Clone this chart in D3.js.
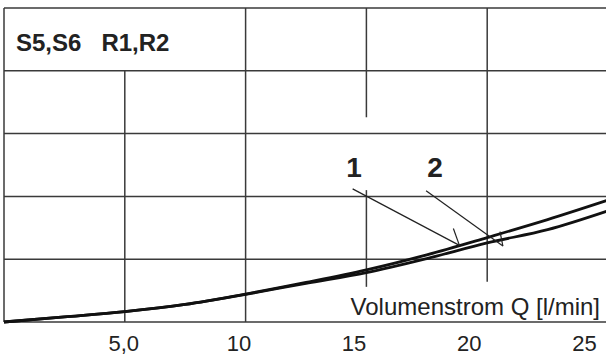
<!DOCTYPE html>
<html>
<head>
<meta charset="utf-8">
<script src="https://cdn.jsdelivr.net/npm/d3@7"></script>
<style>
  body { margin: 0; background: #fff; }
  svg { display: block; font-family: "Liberation Sans", Arial, Helvetica, sans-serif; }
</style>
</head>
<body>
<svg id="chart" width="606" height="356"></svg>
<script>
// Volumenstrom Q [l/min] and two pressure-drop curves (no y labels in the source)
const flow = [0, 2.5, 5, 7.5, 10, 12.5, 15, 17.5, 20, 22.5, 25];
const curve1 = [0, 0.08, 0.165, 0.28, 0.445, 0.63, 0.83, 1.07, 1.345, 1.63, 1.94];
const curve2 = [0, 0.08, 0.165, 0.28, 0.44, 0.615, 0.785, 1.01, 1.26, 1.47, 1.77];

const tickValues = [5, 10, 15, 20, 25];
const tickLabels = ["5,0", "10", "15", "20", "25"];
const gridRows = [0, 1, 2, 3, 4, 5];

// vertical grid segments as drawn in the original (some are broken)
const gridCols = [
    { q: 0, from: 0, to: 5 },
    { q: 5, from: 0, to: 4 },
    { q: 10, from: 0, to: 5 },
    { q: 15, from: 3.26, to: 5 },
    { q: 15, from: 0.56, to: 2.1 },
    { q: 20, from: 0.64, to: 5 }
];

const title = "S5,S6   R1,R2";
const xTitle = "Volumenstrom Q [l/min]";

// leader lines for the curve labels, in data units
const labels = [
    { text: "1", q: 14.49, p: 2.31, from: [14.43, 2.12], to: [18.85, 1.22], tick: [18.6, 1.49] },
    { text: "2", q: 17.84, p: 2.31, from: [17.47, 2.09], to: [20.65, 1.21], tick: [20.53, 1.44] }
];

const svg = d3.select("#chart");

const x = d3.scaleLinear().domain([0, 25]).range([4, 608]);
const y = d3.scaleLinear().domain([0, 5]).range([322, 8]);
// tick labels sit a little left of the grid lines in the source
const xLabel = d3.scaleLinear().domain([0, 25]).range([8, 584]);

const gridColor = "#3a3a3a";

// horizontal grid
svg.append("g").selectAll("line")
    .data(gridRows)
    .join("line")
    .attr("x1", x(0)).attr("x2", x(25))
    .attr("y1", d => y(d)).attr("y2", d => y(d))
    .attr("stroke", gridColor)
    .attr("stroke-width", 1.5);

// vertical grid
svg.append("g").selectAll("line")
    .data(gridCols)
    .join("line")
    .attr("x1", d => x(d.q)).attr("x2", d => x(d.q))
    .attr("y1", d => y(d.from)).attr("y2", d => y(d.to))
    .attr("stroke", gridColor)
    .attr("stroke-width", 1.5);

// curves
const line = d3.line()
    .x((d, i) => x(flow[i]))
    .y(d => y(d))
    .curve(d3.curveMonotoneX);

[curve1, curve2].forEach(c => {
    svg.append("path")
        .attr("d", line(c))
        .attr("fill", "none")
        .attr("stroke", "#111")
        .attr("stroke-width", 2.8);
});

// curve labels and leaders
labels.forEach(l => {
    svg.append("text")
        .attr("x", x(l.q)).attr("y", y(l.p))
        .attr("text-anchor", "middle")
        .attr("font-size", 28)
        .attr("font-weight", "bold")
        .attr("fill", "#222")
        .text(l.text);
    svg.append("line")
        .attr("x1", x(l.from[0])).attr("y1", y(l.from[1]))
        .attr("x2", x(l.to[0])).attr("y2", y(l.to[1]))
        .attr("stroke", "#222").attr("stroke-width", 1.2);
    svg.append("line")
        .attr("x1", x(l.tick[0])).attr("y1", y(l.tick[1]))
        .attr("x2", x(l.to[0])).attr("y2", y(l.to[1]))
        .attr("stroke", "#222").attr("stroke-width", 1.2);
});

// x tick labels
const axis = d3.axisBottom(xLabel)
    .tickValues(tickValues)
    .tickFormat((d, i) => tickLabels[i])
    .tickSize(0);

const ax = svg.append("g")
    .attr("transform", "translate(0,351)")
    .call(axis);
ax.select(".domain").remove();
ax.selectAll("text")
    .attr("y", 0).attr("dy", 0)
    .attr("font-size", 22)
    .attr("font-family", "Liberation Sans, Arial, sans-serif")
    .attr("fill", "#222");

// titles
svg.append("text")
    .attr("x", 16).attr("y", 51)
    .attr("font-size", 24)
    .attr("font-weight", "bold")
    .attr("fill", "#222")
    .style("white-space", "pre")
    .text(title);

svg.append("text")
    .attr("x", 600).attr("y", 315)
    .attr("text-anchor", "end")
    .attr("font-size", 24)
    .attr("fill", "#222")
    .text(xTitle);
</script>
</body>
</html>
